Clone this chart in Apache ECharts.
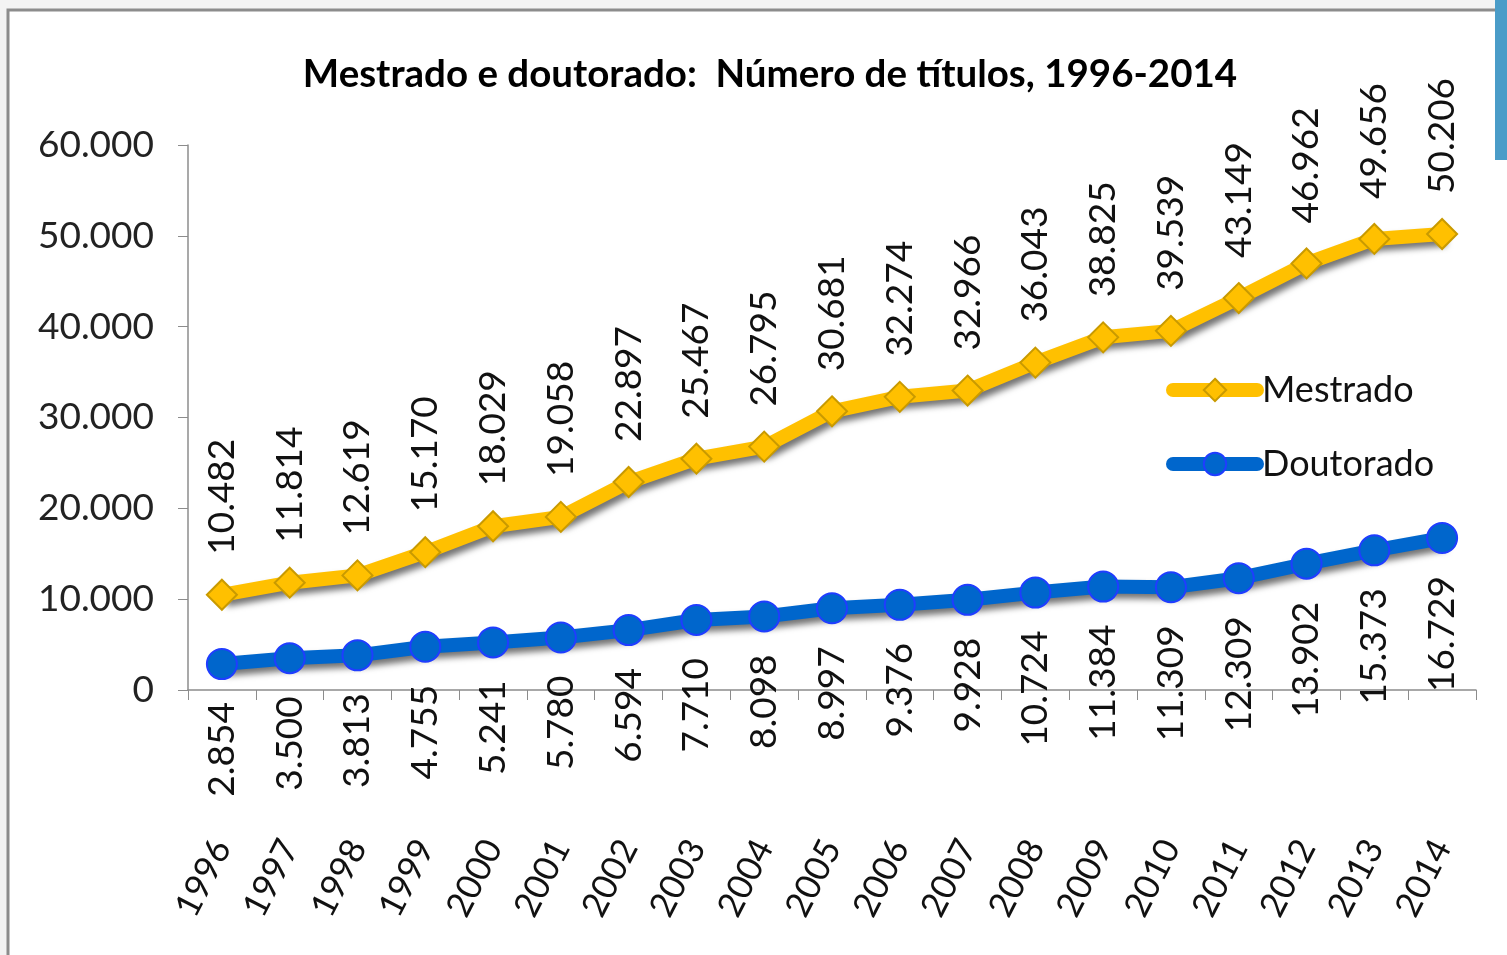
<!DOCTYPE html>
<html>
<head>
<meta charset="utf-8">
<script src="https://cdn.jsdelivr.net/npm/echarts@6/dist/echarts.min.js"></script>
<style>
  html, body { margin: 0; padding: 0; background: #f3f3f3; }
  #chart { width: 1507px; height: 955px; }
</style>
</head>
<body>
<div id="chart"></div>
<script>
var anos = ['1996','1997','1998','1999','2000','2001','2002','2003','2004','2005',
            '2006','2007','2008','2009','2010','2011','2012','2013','2014'];
var mestrado = [10482, 11814, 12619, 15170, 18029, 19058, 22897, 25467, 26795, 30681,
                32274, 32966, 36043, 38825, 39539, 43149, 46962, 49656, 50206];
var doutorado = [2854, 3500, 3813, 4755, 5241, 5780, 6594, 7710, 8098, 8997,
                 9376, 9928, 10724, 11384, 11309, 12309, 13902, 15373, 16729];

// 10482 -> "10.482"
function fmt(v) {
    return String(v).replace(/\B(?=(\d{3})+(?!\d))/g, '.');
}

var fonte = 'Lato, "Open Sans", sans-serif';
var sombra = {
    shadowColor: 'rgba(0,0,0,0.55)',
    shadowBlur: 6,
    shadowOffsetX: 4,
    shadowOffsetY: 5
};

var myChart = echarts.init(document.getElementById('chart'));
var option = {
    backgroundColor: '#f3f3f3',
    animation: false,
    graphic: [
        {
            type: 'rect', z: -10,
            shape: { x: 8, y: 10, width: 1520, height: 960 },
            style: { fill: '#ffffff', stroke: '#8c8c8c', lineWidth: 3 }
        },
        {
            type: 'rect', z: -9,
            shape: { x: 1495, y: 0, width: 12, height: 160 },
            style: { fill: '#4a9cc8' }
        }
    ],
    title: {
        text: 'Mestrado e doutorado:  Número de títulos, 1996-2014',
        left: 765,
        top: 50,
        textAlign: 'center',
        textStyle: { fontFamily: fonte, fontWeight: 'bold', fontSize: 38.5, color: '#000' }
    },
    legend: {
        orient: 'vertical',
        left: 1161,
        top: 367,
        itemWidth: 84,
        itemHeight: 28,
        itemGap: 38,
        data: ['Mestrado', 'Doutorado'],
        lineStyle: { width: 14, cap: 'round', shadowBlur: 0, shadowOffsetX: 0, shadowOffsetY: 0 },
        textStyle: { fontFamily: fonte, fontSize: 36, color: '#111' }
    },
    grid: { left: 188, right: 31, top: 145, bottom: 265 },
    xAxis: {
        type: 'category',
        data: anos,
        boundaryGap: true,
        axisLine: { lineStyle: { color: '#8c8c8c', width: 1.5 } },
        axisTick: { show: true, length: 10, lineStyle: { color: '#8c8c8c' } },
        axisLabel: {
            rotate: 63,
            margin: 152,
            fontFamily: fonte,
            fontSize: 35,
            color: '#111'
        }
    },
    yAxis: {
        type: 'value',
        min: 0,
        max: 60000,
        interval: 10000,
        splitLine: { show: false },
        axisLine: { show: true, lineStyle: { color: '#8c8c8c', width: 1.5 } },
        axisTick: { show: true, length: 10, lineStyle: { color: '#8c8c8c' } },
        axisLabel: {
            margin: 34,
            fontFamily: fonte,
            fontSize: 37,
            color: '#222',
            formatter: fmt
        }
    },
    series: [
        {
            name: 'Mestrado',
            type: 'line',
            data: mestrado,
            symbol: 'diamond',
            symbolSize: 30,
            color: '#ffc000',
            lineStyle: Object.assign({ width: 14, color: '#ffc000' }, sombra),
            itemStyle: { color: '#ffc000', borderColor: '#c99a00', borderWidth: 2 },
            label: {
                show: true,
                position: 'top',
                distance: 24,
                rotate: 90,
                align: 'left',
                verticalAlign: 'middle',
                fontFamily: fonte,
                fontSize: 37,
                color: '#111',
                formatter: function (p) { return fmt(p.value); }
            },
            z: 3
        },
        {
            name: 'Doutorado',
            type: 'line',
            data: doutorado,
            symbol: 'circle',
            symbolSize: 30,
            color: '#0066cc',
            lineStyle: Object.assign({ width: 14, color: '#0066cc' }, sombra),
            itemStyle: { color: '#0066cc', borderColor: '#1f3dff', borderWidth: 2 },
            label: {
                show: true,
                position: 'bottom',
                distance: 22,
                rotate: 90,
                align: 'right',
                verticalAlign: 'middle',
                fontFamily: fonte,
                fontSize: 37,
                color: '#111',
                formatter: function (p) { return fmt(p.value); }
            },
            z: 4
        }
    ]
};
myChart.setOption(option);
</script>
</body>
</html>
